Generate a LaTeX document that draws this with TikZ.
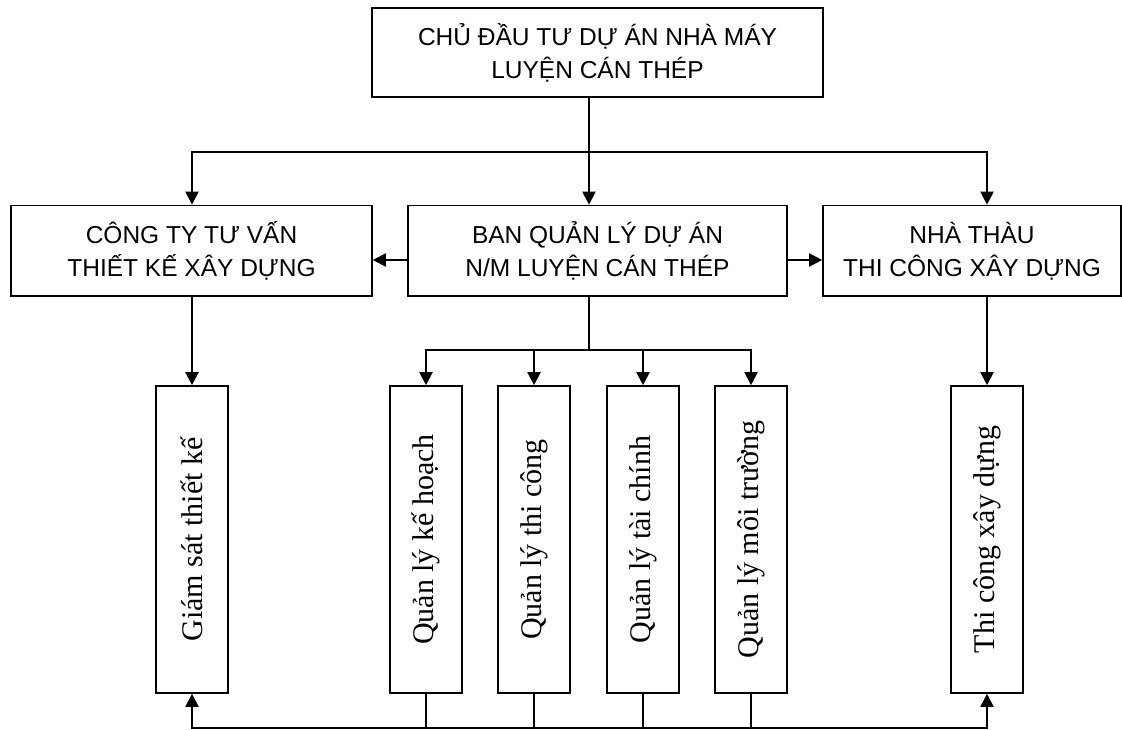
\documentclass[tikz,border=0pt]{standalone}
\usepackage{graphicx}
\usepackage{fontspec}
\setmainfont{Liberation Serif}
\newfontfamily\headfont{Liberation Sans}
\usetikzlibrary{arrows.meta}
\begin{document}
\begin{tikzpicture}[x=1pt,y=-1pt,
  line width=2pt,
  box/.style={draw, line width=1.6pt, rectangle, align=center, inner sep=0pt},
  headbox/.style={box, font=\headfont\fontsize{24.5}{33}\selectfont},
  dept/.style={box, minimum width=72pt, minimum height=307pt, font=\fontsize{30}{36}\selectfont},
  arr/.style={-{Triangle[length=13pt,width=13pt]}}
]
\useasboundingbox (0,0) rectangle (1122,730);

% management levels
\node[headbox, minimum width=451pt, minimum height=89pt] (top) at (597.5,52.5)
  {CHỦ ĐẦU TƯ DỰ ÁN NHÀ MÁY\\LUYỆN CÁN THÉP};
\node[headbox, minimum width=361pt, minimum height=90.5pt] (lbox) at (191.5,250.75)
  {CÔNG TY TƯ VẤN\\THIẾT KẾ XÂY DỰNG};
\node[headbox, minimum width=379pt, minimum height=90.5pt] (mbox) at (597.5,250.75)
  {BAN QUẢN LÝ DỰ ÁN\\N/M LUYỆN CÁN THÉP};
\node[headbox, minimum width=298pt, minimum height=90.5pt] (rbox) at (972,250.75)
  {NHÀ THÀU\\THI CÔNG XÂY DỰNG};

% departments
\node[dept] (gs)   at (192,539.5) {\rotatebox{90}{Giám sát thiết kế}};
\node[dept] (kh)   at (426,539.5) {\rotatebox{90}{Quản lý kế hoạch}};
\node[dept] (tc)   at (534,539.5) {\rotatebox{90}{Quản lý thi công}};
\node[dept] (taic) at (643,539.5) {\rotatebox{90}{Quản lý tài chính}};
\node[dept] (mt)   at (751,539.5) {\rotatebox{90}{Quản lý môi trường}};
\node[dept] (tcxd) at (987,539.5) {\rotatebox{90}{Thi công xây dựng}};

% junction points
\coordinate (hub) at (589,152);
\coordinate (hl) at (192,152);
\coordinate (hr) at (987,152);
\coordinate (side) at (0,260);
\coordinate (split) at (589,350);
\coordinate (base) at (0,728);

% owner to the three units
\draw (hub |- top.south) -- (hub);
\draw[arr] (hub) -| (hl |- lbox.north);
\draw[arr] (hub) -| (hr |- rbox.north);
\draw[arr] (hub) -- (hub |- mbox.north);

% project board to consultant and contractor
\draw[arr] (side -| mbox.west) -- (side -| lbox.east);
\draw[arr] (side -| mbox.east) -- (side -| rbox.west);

% project board to its departments
\draw (split |- mbox.south) -- (split);
\draw[arr] (split) -| (kh.north);
\draw[arr] (split) -| (tc.north);
\draw[arr] (split) -| (taic.north);
\draw[arr] (split) -| (mt.north);

% consultant and contractor to their teams
\draw[arr] (lbox.south -| gs) -- (gs.north);
\draw[arr] (rbox.south -| tcxd) -- (tcxd.north);

% feedback line along the bottom
\draw[arr] (kh.south) -- (base -| kh) -| (gs.south);
\draw[arr] (mt.south) -- (base -| mt) -| (tcxd.south);
\draw (tc.south) -- (base -| tc);
\draw (taic.south) -- (base -| taic);
\draw (base -| kh) -- (base -| mt);
\end{tikzpicture}
\end{document}
